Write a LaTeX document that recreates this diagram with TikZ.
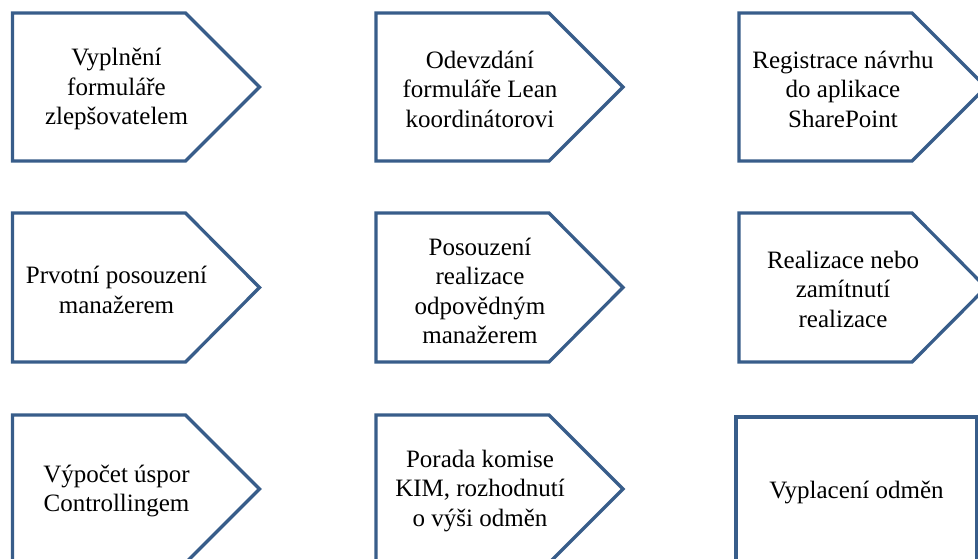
\documentclass[tikz,border=0pt]{standalone}
\usepackage{fontspec}
\setmainfont{Liberation Serif}
\newfontfamily\stepfont{Liberation Serif}
\definecolor{boxline}{RGB}{56,93,138}
\tikzset{
  stepshape/.style={draw=boxline, line width=3.3pt, line join=miter, fill=white},
  steptext/.style={align=center, font=\stepfont\fontsize{25}{29.5}\selectfont, text=black, inner sep=0pt}
}
\begin{document}
\begin{tikzpicture}[x=1pt, y=-1pt]
  \useasboundingbox (0,0) rectangle (978,559);
  \begin{scope}
    \clip (0,0) rectangle (978,559);
    % pentagon arrows: left edge, top, bottom; body 173 wide, point 74 deep
    \foreach \lx/\ty/\by in {12.5/13/161, 376/13/161, 739/13/161,
                             12.5/213/362, 376/213/362, 739/213/362,
                             12.5/415/563, 376/415/563} {
      \draw[stepshape] (\lx,\ty) -- ++(173,0) -- (\lx+247,{(\ty+\by)/2})
        -- (\lx+173,\by) -- (\lx,\by) -- cycle;
    }
    % final step is a plain rectangle
    \draw[stepshape] (736,417) rectangle (977,575);
  \end{scope}

  \node[steptext] (s1) at (116.5,89) {Vyplnění\\formuláře\\zlepšovatelem};
  \node[steptext] (s2) at (480,89) {Odevzdání\\formuláře Lean\\koordinátorovi};
  \node[steptext] (s3) at (843,89) {Registrace návrhu\\do aplikace\\SharePoint};
  \node[steptext] (s4) at (116.5,290) {Prvotní posouzení\\manažerem};
  \node[steptext] (s5) at (480,291) {Posouzení\\realizace\\odpovědným\\manažerem};
  \node[steptext] (s6) at (843,289) {Realizace nebo\\zamítnutí\\realizace};
  \node[steptext] (s7) at (116.5,491) {Výpočet úspor\\Controllingem};
  \node[steptext] (s8) at (480,491) {Porada komise\\KIM, rozhodnutí\\o výši odměn};
  \node[steptext] (s9) at (856.5,492) {Vyplacení odměn};
\end{tikzpicture}
\end{document}
